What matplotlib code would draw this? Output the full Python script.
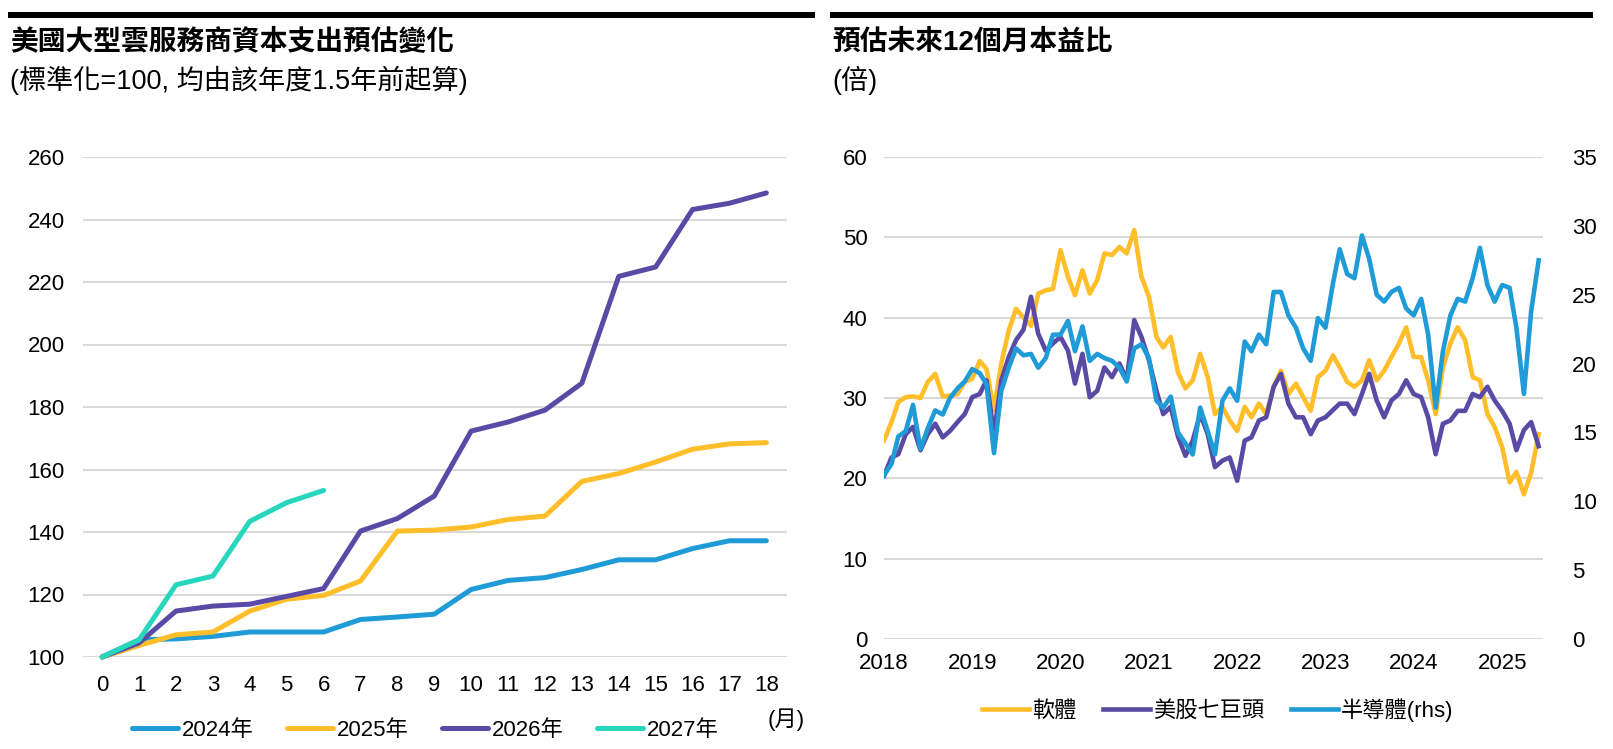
import matplotlib
matplotlib.use("Agg")
import matplotlib.pyplot as plt
import matplotlib.dates as mdates
import pandas as pd

plt.rcParams['font.family'] = ['Liberation Sans', 'Noto Sans CJK TC']

# left chart: capex estimates, indexed to 100
months = list(range(19))
capex_2024 = [100, 105.5, 105.8, 106.6, 108, 108, 108, 112, 112.8, 113.7,
              121.6, 124.5, 125.4, 128, 131.1, 131.1, 134.7, 137.2, 137.2]
capex_2025 = [100, 103.7, 107.1, 108, 114.7, 118.5, 119.7, 124.3, 140.3, 140.6,
              141.6, 144, 145.1, 156.2, 158.7, 162.4, 166.5, 168.2, 168.6]
capex_2026 = [100, 104.5, 114.7, 116.3, 116.9, 119.4, 121.9, 140.3, 144.3, 151.5,
              172.3, 175.2, 179, 187.6, 221.8, 224.8, 243.2, 245.2, 248.5]
capex_2027 = [100, 105.5, 123.1, 125.9, 143.4, 149.4, 153.3]
capex_labels = ['2024年', '2025年', '2026年', '2027年']

# right chart: forward 12m P/E, monthly readings from Jan 2018
software = [24.7, 27.0, 29.5, 30.1, 30.2, 30.0, 32.0, 33.0, 30.2, 30.3,
            30.5, 32.0, 32.4, 34.6, 33.6, 28.5, 34.3, 38.4, 41.1, 40.0,
            39.0, 43.0, 43.4, 43.6, 48.4, 45.1, 42.8, 45.9, 43.0, 44.7,
            48.0, 47.8, 48.8, 48.0, 50.9, 45.1, 42.6, 37.6, 36.3, 37.6,
            33.2, 31.2, 32.2, 35.5, 32.6, 28.0, 28.9, 27.2, 25.9, 28.9,
            27.6, 29.3, 28.0, 31.4, 33.4, 30.5, 31.8, 30.1, 28.4, 32.6,
            33.4, 35.3, 33.8, 32.0, 31.4, 32.2, 34.7, 32.2, 33.4, 35.1,
            36.8, 38.8, 35.1, 35.1, 32.2, 28.0, 33.8, 36.8, 38.8, 37.2,
            32.6, 32.2, 28.0, 26.4, 23.9, 19.5, 20.8, 18.0, 20.7, 25.5]
mag7 = [20.3, 22.6, 23.0, 25.5, 26.4, 23.5, 25.5, 26.8, 25.1, 25.9,
        27.0, 28.0, 30.1, 30.5, 32.2, 25.5, 32.2, 35.1, 37.2, 38.5,
        42.6, 38.0, 35.9, 36.8, 37.6, 35.9, 31.8, 35.5, 30.1, 30.9,
        33.8, 32.6, 34.3, 32.2, 39.7, 37.6, 34.7, 30.9, 28.0, 28.9,
        25.2, 22.8, 24.7, 28.0, 25.5, 21.4, 22.2, 22.6, 19.7, 24.7,
        25.1, 27.2, 27.6, 31.4, 33.0, 29.3, 27.6, 27.6, 25.5, 27.2,
        27.6, 28.5, 29.3, 29.3, 28.0, 30.5, 33.0, 29.7, 27.6, 29.7,
        30.5, 32.2, 30.5, 30.1, 27.6, 23.0, 26.8, 27.2, 28.4, 28.4,
        30.5, 30.1, 31.4, 29.7, 28.4, 26.8, 23.5, 26.0, 27.0, 24.0]
semis = [11.9, 12.7, 14.7, 15.1, 17.0, 13.8, 15.3, 16.6, 16.3, 17.5,
         18.2, 18.7, 19.6, 19.3, 18.5, 13.5, 18.0, 19.7, 21.1, 20.6,
         20.7, 19.7, 20.4, 22.1, 22.1, 23.1, 20.9, 22.7, 20.2, 20.7,
         20.4, 20.2, 19.7, 18.7, 21.1, 21.4, 20.4, 17.3, 16.8, 17.6,
         15.0, 14.2, 13.4, 16.8, 15.1, 13.4, 17.3, 18.2, 17.3, 21.6,
         20.9, 22.1, 21.4, 25.2, 25.2, 23.5, 22.6, 21.1, 20.2, 23.3,
         22.6, 25.8, 28.3, 26.5, 26.2, 29.3, 27.6, 25.0, 24.5, 25.2,
         25.5, 24.0, 23.5, 24.7, 22.1, 16.8, 20.9, 23.5, 24.7, 24.5,
         26.2, 28.4, 25.7, 24.5, 25.7, 25.5, 22.6, 17.8, 23.8, 27.5]
pe_dates = pd.date_range('2018-01-01', periods=len(software), freq='MS')
pe_labels = ['軟體', '美股七巨頭', '半導體(rhs)']
years = list(range(2018, 2026))

c_blue = '#1F9BD7'
c_yellow = '#FFBE2A'
c_purple = '#5A4AA6'
c_teal = '#27D6BC'
grid_c = '#D9D9D9'
W, H = 1613, 749

fig = plt.figure(figsize=(W / 100, H / 100), dpi=100)

# header bars and titles
for x0, x1 in [(8, 815), (830, 1593)]:
    fig.add_artist(plt.Line2D([x0 / W, x1 / W], [1 - 15 / H, 1 - 15 / H],
                              color='black', lw=4.3, solid_capstyle='butt'))
fig.text(10 / W, 1 - 43 / H, '美國大型雲服務商資本支出預估變化', fontsize=20,
         fontweight='bold', va='center', ha='left')
fig.text(10 / W, 1 - 80 / H, '(標準化=100, 均由該年度1.5年前起算)', fontsize=19.5,
         va='center', ha='left')
fig.text(832 / W, 1 - 43 / H, '預估未來12個月本益比', fontsize=20,
         fontweight='bold', va='center', ha='left')
fig.text(832 / W, 1 - 80 / H, '(倍)', fontsize=19.5, va='center', ha='left')

# left chart
ax = fig.add_axes([83 / W, 1 - 657 / H, 704 / W, 500 / H])
series = [capex_2024, capex_2025, capex_2026, capex_2027]
colors = [c_blue, c_yellow, c_purple, c_teal]
for vals, col, lab in zip(series, colors, capex_labels):
    ax.plot(months[:len(vals)], vals, color=col, lw=3.6, label=lab,
            solid_capstyle='round', clip_on=False)
ax.set_xlim(-0.52, 18.56)
ax.set_ylim(100, 260)
ax.set_yticks(range(100, 261, 20))
ax.set_xticks(months)
ax.grid(axis='y', color=grid_c, lw=1.5)
ax.set_axisbelow(True)
for s in ax.spines.values():
    s.set_visible(False)
ax.tick_params(length=0, labelsize=16)
ax.tick_params(axis='y', pad=13)
ax.tick_params(axis='x', pad=13)
fig.text(786 / W, 1 - 720 / H, '(月)', fontsize=16, ha='center', va='center')
ax.legend(loc='center', bbox_to_anchor=(425 / W, 1 - 730 / H),
          bbox_transform=fig.transFigure, ncol=4, frameon=False, fontsize=16,
          handlelength=2.1, handletextpad=0.15, columnspacing=1.5)

# right chart
bx = fig.add_axes([884 / W, 1 - 639 / H, 659 / W, 482 / H])
l1, = bx.plot(pe_dates, software, color=c_yellow, lw=3.3, label=pe_labels[0])
l2, = bx.plot(pe_dates, mag7, color=c_purple, lw=3.3, label=pe_labels[1])
bx.set_ylim(0, 60)
bx.set_yticks(range(0, 61, 10))
bx.grid(axis='y', color=grid_c, lw=1.5)
bx.set_axisbelow(True)
bx2 = bx.twinx()
l3, = bx2.plot(pe_dates, semis, color=c_blue, lw=3.3, label=pe_labels[2])
bx2.set_ylim(0, 35)
bx2.set_yticks(range(0, 36, 5))
bx.set_xlim(pd.Timestamp('2018-01-01'), pd.Timestamp('2025-06-19'))
bx.set_xticks([pd.Timestamp(f'{y}-01-01') for y in years])
bx.xaxis.set_major_formatter(mdates.DateFormatter('%Y'))
for a in (bx, bx2):
    for s in a.spines.values():
        s.set_visible(False)
    a.tick_params(length=0, labelsize=16)
bx.tick_params(axis='y', pad=12)
bx2.tick_params(axis='y', pad=21)
bx.tick_params(axis='x', pad=10)
bx.legend(handles=[l1, l2, l3], loc='center',
          bbox_to_anchor=(1218 / W, 1 - 710 / H), bbox_transform=fig.transFigure,
          ncol=3, frameon=False, fontsize=16, handlelength=2.1,
          handletextpad=0.15, columnspacing=1.2)

fig.savefig('out.png', dpi=100)
